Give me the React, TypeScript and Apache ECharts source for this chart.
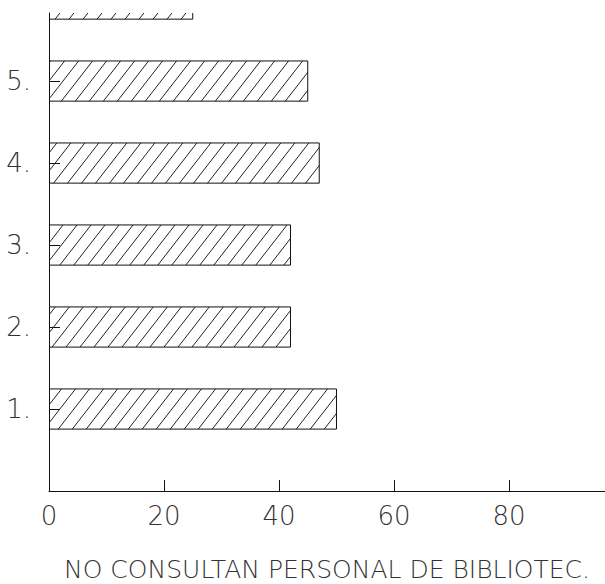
import React, { useEffect, useRef } from "react";
import * as echarts from "echarts";

// Row positions on the vertical axis (row 6 is only partly in view at the top)
const positions = [1, 2, 3, 4, 5, 6];
const rowLabels = ["1.", "2.", "3.", "4.", "5."];
const values = [50, 42, 42, 47, 45, 25];
const xTicks = [0, 20, 40, 60, 80];
const axisTitle = "NO CONSULTAN PERSONAL DE BIBLIOTEC.";

const FONT = "'DejaVu Sans', 'Liberation Sans', sans-serif";

// Diagonal hatch tile used to fill the bars
const hatchSvg =
  "<svg xmlns='http://www.w3.org/2000/svg' width='14' height='18'>" +
  "<path d='M-1 19.3L15 -1.3M-15 19.3L1 -1.3M13 19.3L29 -1.3' stroke='#222' stroke-width='1' fill='none'/>" +
  "</svg>";
const hatchUrl = "data:image/svg+xml;charset=utf-8," + encodeURIComponent(hatchSvg);

export default function App() {
  const ref = useRef<HTMLDivElement>(null);

  useEffect(() => {
    if (!ref.current) return;
    const chart = echarts.init(ref.current, null, { renderer: "svg" });
    const hatch: any = {
      image: hatchUrl,
      repeat: "repeat",
      imageWidth: 14,
      imageHeight: 18,
    };

    chart.setOption({
      animation: false,
      backgroundColor: "#ffffff",
      grid: {
        left: 49,
        right: 0,
        top: 13,
        bottom: 93,
        containLabel: false,
        outerBoundsMode: "none",
      },
      xAxis: {
        type: "value",
        min: 0,
        max: 96.7,
        interval: 20,
        splitLine: { show: false },
        axisLine: { show: true, lineStyle: { color: "#111", width: 1 } },
        axisTick: {
          show: true,
          inside: true,
          length: 11,
          customValues: xTicks.filter((v) => v > 0),
          lineStyle: { color: "#111", width: 1 },
        },
        axisLabel: {
          customValues: xTicks,
          margin: 12,
          color: "#333",
          fontFamily: FONT,
          fontWeight: 200,
          fontSize: 26,
        },
        name: axisTitle,
        nameLocation: "middle",
        nameGap: 66,
        nameTextStyle: {
          color: "#333",
          fontFamily: FONT,
          fontWeight: 200,
          fontSize: 25,
        },
      },
      yAxis: {
        type: "value",
        min: 0,
        max: 5.83,
        interval: 1,
        splitLine: { show: false },
        axisLine: { show: true, onZero: false, lineStyle: { color: "#111", width: 1 } },
        axisTick: {
          show: true,
          inside: true,
          length: 11,
          customValues: rowLabels.map((_, i) => positions[i]),
          lineStyle: { color: "#111", width: 1 },
        },
        axisLabel: {
          customValues: rowLabels.map((_, i) => positions[i]),
          formatter: (v: number) => rowLabels[positions.indexOf(v)] ?? "",
          margin: 18,
          color: "#333",
          fontFamily: FONT,
          fontWeight: 200,
          fontSize: 26,
        },
      },
      series: [
        {
          type: "custom",
          clip: true,
          data: values.map((v, i) => [v, positions[i]]),
          encode: { x: 0, y: 1 },
          renderItem: (params: any, api: any) => {
            const val = api.value(0);
            const pos = api.value(1);
            const start = api.coord([0, pos]);
            const end = api.coord([val, pos]);
            const h = api.size([0, 0.49])[1];
            return {
              type: "rect",
              shape: {
                x: start[0],
                y: start[1] - h / 2,
                width: end[0] - start[0],
                height: h,
              },
              style: { fill: hatch, stroke: "#111", lineWidth: 1 },
            };
          },
        },
      ],
    });

    return () => chart.dispose();
  }, []);

  return (
    <div
      ref={ref}
      style={{ position: "fixed", left: 0, top: 0, width: 605, height: 584, background: "#fff" }}
    />
  );
}
